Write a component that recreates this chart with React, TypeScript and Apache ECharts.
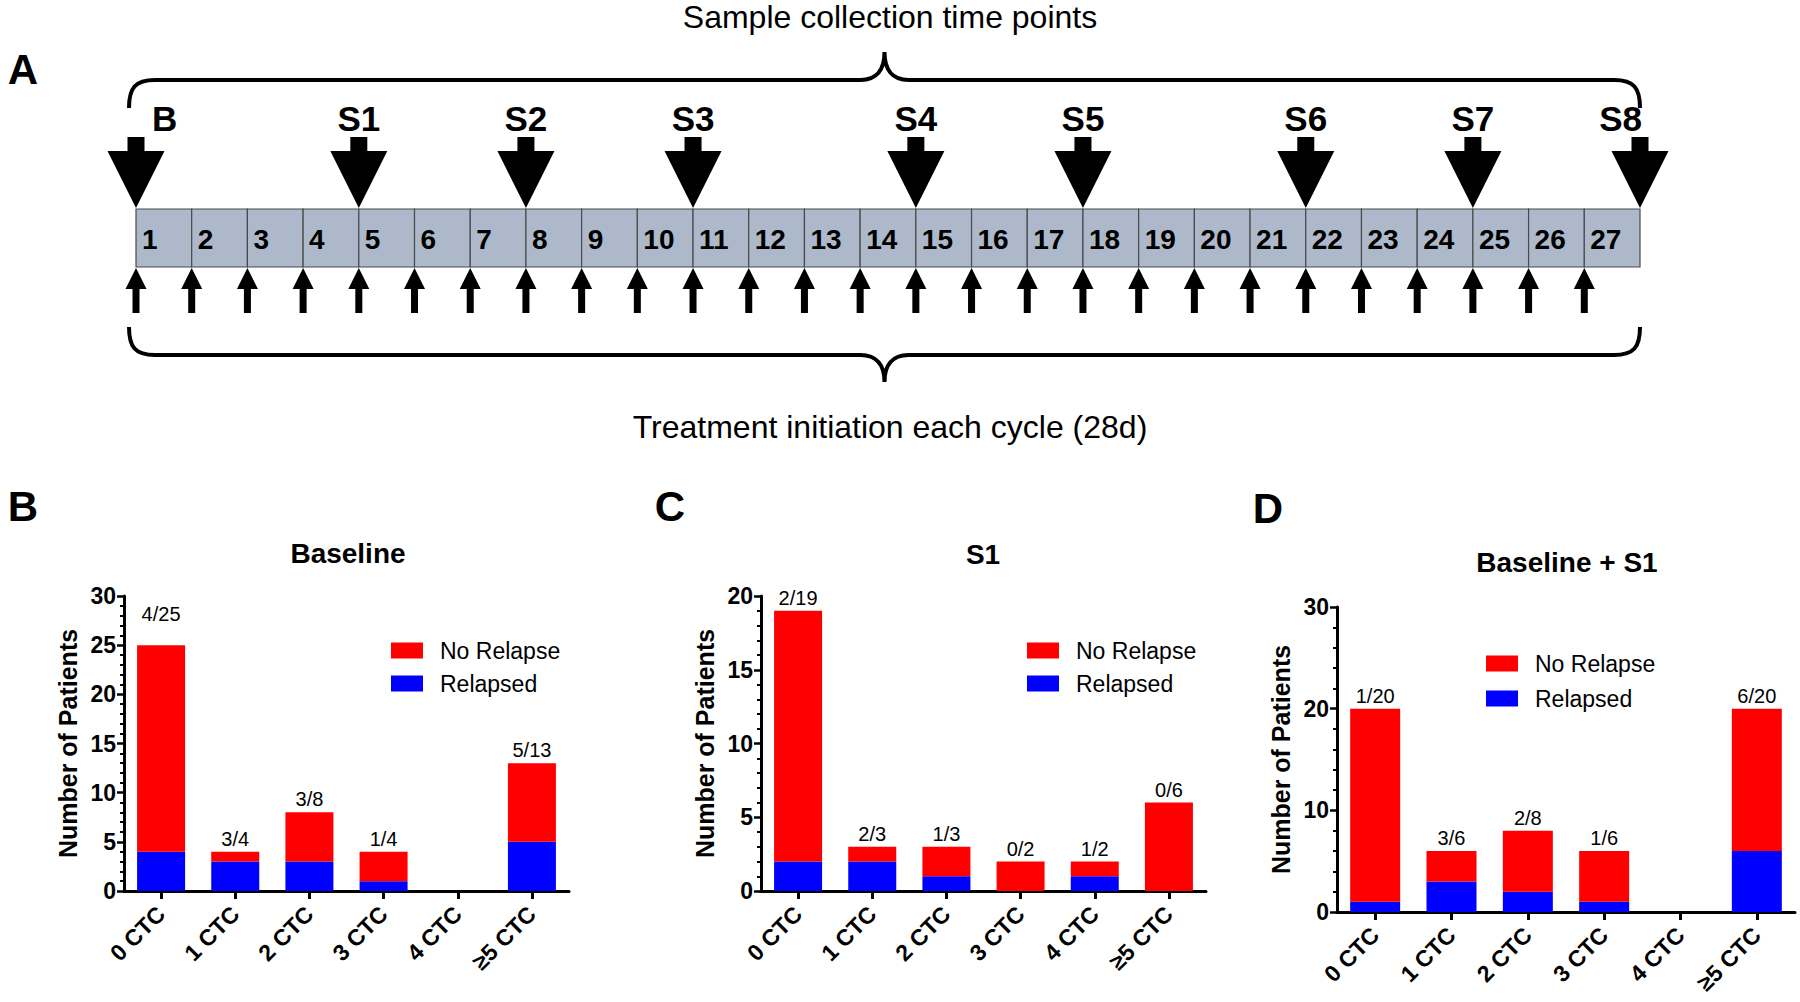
import React, { useEffect, useRef } from "react";
import * as echarts from "echarts";

const FONT = '"Liberation Sans", Arial, Helvetica, sans-serif';

// ---------- Panel A data ----------
const cycles = [1, 2, 3, 4, 5, 6, 7, 8, 9, 10, 11, 12, 13, 14, 15, 16, 17, 18, 19, 20, 21, 22, 23, 24, 25, 26, 27];
const sampleCycles = [1, 5, 8, 11, 15, 18, 22, 25, 28];
const sampleLabels = ["B", "S1", "S2", "S3", "S4", "S5", "S6", "S7", "S8"];
const topCaption = "Sample collection time points";
const bottomCaption = "Treatment initiation each cycle (28d)";

// ---------- Panels B-D data ----------
const categories = ["0 CTC", "1 CTC", "2 CTC", "3 CTC", "4 CTC", "≥5 CTC"];

const baselineRelapsed = [4, 3, 3, 1, 0, 5];
const baselineNoRelapse = [21, 1, 5, 3, 0, 8];
const baselineLabels = ["4/25", "3/4", "3/8", "1/4", "", "5/13"];

const s1Relapsed = [2, 2, 1, 0, 1, 0];
const s1NoRelapse = [17, 1, 2, 2, 1, 6];
const s1Labels = ["2/19", "2/3", "1/3", "0/2", "1/2", "0/6"];

const combRelapsed = [1, 3, 2, 1, 0, 6];
const combNoRelapse = [19, 3, 6, 5, 0, 14];
const combLabels = ["1/20", "3/6", "2/8", "1/6", "", "6/20"];

const panelTitles = ["Baseline", "S1", "Baseline + S1"];
const yMax = [30, 20, 30];
const yInterval = [5, 5, 10];
const legendNames = ["No Relapse", "Relapsed"];

function txt(text: string, x: number, y: number, font: string, align = "center", valign = "middle") {
  return {
    type: "text",
    style: {
      text,
      x,
      y,
      font,
      fill: "#000",
      textAlign: align,
      textVerticalAlign: valign,
      align,
      verticalAlign: valign,
    },
  };
}

function bracePath(L: number, R: number, yEnd: number, yLine: number, yTip: number) {
  const M = (L + R) / 2;
  const s = yEnd > yLine ? 1 : -1;
  return [
    `M ${L} ${yEnd}`,
    `C ${L} ${yLine + s * 8} ${L + 6} ${yLine} ${L + 26} ${yLine}`,
    `L ${M - 24} ${yLine}`,
    `C ${M - 8} ${yLine} ${M} ${yLine - s * 10} ${M} ${yTip}`,
    `C ${M} ${yLine - s * 10} ${M + 8} ${yLine} ${M + 24} ${yLine}`,
    `L ${R - 26} ${yLine}`,
    `C ${R - 6} ${yLine} ${R} ${yLine + s * 8} ${R} ${yEnd}`,
  ].join(" ");
}

function buildOption() {
  const grids = [
    { left: 136, right: 160, top: 40, height: 400 },
    { left: 124, width: 445, top: 596, height: 295 },
    { left: 761, width: 445, top: 596, height: 295 },
    { left: 1337, width: 458, top: 607, height: 305 },
  ];

  const xAxes: any[] = [{ type: "value", gridIndex: 0, min: 1, max: 28, show: false }];
  const yAxes: any[] = [{ type: "value", gridIndex: 0, min: 0, max: 1, show: false }];

  for (let p = 0; p < 3; p++) {
    xAxes.push({
      type: "category",
      gridIndex: p + 1,
      data: categories,
      axisLine: { show: true, lineStyle: { color: "#000", width: 3 } },
      axisTick: { show: true, alignWithLabel: true, length: 8, lineStyle: { color: "#000", width: 3 } },
      axisLabel: {
        rotate: 45,
        interval: 0,
        margin: 19,
        color: "#000",
        fontWeight: "bold",
        fontSize: 23,
        fontFamily: FONT,
      },
    });
    yAxes.push({
      type: "value",
      gridIndex: p + 1,
      min: 0,
      max: yMax[p],
      interval: yInterval[p],
      name: "Number of Patients",
      nameLocation: "middle",
      nameGap: 44,
      nameTextStyle: { color: "#000", fontWeight: "bold", fontSize: 25, fontFamily: FONT },
      axisLine: { show: true, lineStyle: { color: "#000", width: 3 } },
      axisTick: { show: true, length: 7, lineStyle: { color: "#000", width: 2.5 } },
      minorTick: { show: true, splitNumber: 5, length: 4, lineStyle: { color: "#000", width: 2 } },
      splitLine: { show: false },
      axisLabel: { margin: 8, color: "#000", fontWeight: "bold", fontSize: 23, fontFamily: FONT },
    });
  }

  const relapsedSets = [baselineRelapsed, s1Relapsed, combRelapsed];
  const noRelapseSets = [baselineNoRelapse, s1NoRelapse, combNoRelapse];
  const labelSets = [baselineLabels, s1Labels, combLabels];
  const barWidths = [48, 48, 50];

  const series: any[] = [];

  // Panel A: timeline boxes
  series.push({
    type: "custom",
    xAxisIndex: 0,
    yAxisIndex: 0,
    clip: false,
    silent: true,
    data: cycles.map((c) => [c]),
    renderItem: (params: any, api: any) => {
      const c = api.value(0);
      const x0 = api.coord([c, 0])[0];
      const x1 = api.coord([c + 1, 0])[0];
      return {
        type: "group",
        children: [
          {
            type: "rect",
            shape: { x: x0, y: 209, width: x1 - x0, height: 58 },
            style: { fill: "#adb9ca", stroke: "#4a4a4a", lineWidth: 1.2 },
          },
          txt(String(c), x0 + 6, 239, `bold 28px ${FONT}`, "left", "middle"),
        ],
      };
    },
  });

  // Panel A: small treatment arrows
  series.push({
    type: "custom",
    xAxisIndex: 0,
    yAxisIndex: 0,
    clip: false,
    silent: true,
    data: cycles.map((c) => [c]),
    renderItem: (params: any, api: any) => {
      const x = api.coord([api.value(0), 0])[0];
      return {
        type: "polygon",
        shape: {
          points: [
            [x, 268],
            [x + 10.5, 289],
            [x + 3.5, 289],
            [x + 3.5, 313],
            [x - 3.5, 313],
            [x - 3.5, 289],
            [x - 10.5, 289],
          ],
        },
        style: { fill: "#000" },
      };
    },
  });

  // Panel A: sample collection arrows
  series.push({
    type: "custom",
    xAxisIndex: 0,
    yAxisIndex: 0,
    clip: false,
    silent: true,
    data: sampleCycles.map((c) => [c]),
    renderItem: (params: any, api: any) => {
      const i = params.dataIndex;
      const x = api.coord([api.value(0), 0])[0];
      const last = sampleCycles.length - 1;
      const ly = 118;
      let label;
      if (i === 0) label = txt(sampleLabels[i], x + 16, ly, `bold 35px ${FONT}`, "left", "middle");
      else if (i === last) label = txt(sampleLabels[i], x + 2, ly, `bold 35px ${FONT}`, "right", "middle");
      else label = txt(sampleLabels[i], x, ly, `bold 35px ${FONT}`, "center", "middle");
      return {
        type: "group",
        children: [
          {
            type: "polygon",
            shape: {
              points: [
                [x - 8.5, 137],
                [x + 8.5, 137],
                [x + 8.5, 151],
                [x + 28.5, 151],
                [x, 208],
                [x - 28.5, 151],
                [x - 8.5, 151],
              ],
            },
            style: { fill: "#000" },
          },
          label,
        ],
      };
    },
  });

  // Panel A: braces
  series.push({
    type: "custom",
    xAxisIndex: 0,
    yAxisIndex: 0,
    clip: false,
    silent: true,
    data: [[sampleCycles[0], sampleCycles[sampleCycles.length - 1]]],
    renderItem: (params: any, api: any) => {
      const L = api.coord([api.value(0), 0])[0] - 7;
      const R = api.coord([api.value(1), 0])[0];
      return {
        type: "group",
        children: [
          {
            type: "path",
            shape: { pathData: bracePath(L, R, 108, 80, 52) },
            style: { fill: null, stroke: "#000", lineWidth: 4 },
          },
          {
            type: "path",
            shape: { pathData: bracePath(L, R, 327, 355, 382) },
            style: { fill: null, stroke: "#000", lineWidth: 4 },
          },
        ],
      };
    },
  });

  for (let p = 0; p < 3; p++) {
    series.push({
      type: "bar",
      name: "Relapsed",
      xAxisIndex: p + 1,
      yAxisIndex: p + 1,
      stack: "s" + p,
      barWidth: barWidths[p],
      data: relapsedSets[p],
      itemStyle: { color: "#0000ff" },
      silent: true,
    });
    const labels = labelSets[p];
    series.push({
      type: "bar",
      name: "No Relapse",
      xAxisIndex: p + 1,
      yAxisIndex: p + 1,
      stack: "s" + p,
      barWidth: barWidths[p],
      data: noRelapseSets[p].map((v, i) =>
        p === 0 && i === 0 ? { value: v, label: { distance: 21 } } : v
      ),
      itemStyle: { color: "#ff0000" },
      silent: true,
      label: {
        show: true,
        position: "top",
        distance: 3,
        color: "#000",
        fontSize: 20,
        fontFamily: FONT,
        formatter: (prm: any) => labels[prm.dataIndex],
      },
    });
  }

  const legendPos = [
    { left: 386, top: 634 },
    { left: 1022, top: 634 },
    { left: 1481, top: 647 },
  ];
  const legends = legendPos.map((pos, p) => ({
    ...pos,
    orient: "vertical",
    icon: "rect",
    itemWidth: 32,
    itemHeight: 16,
    itemGap: p === 2 ? 12 : 10,
    selectedMode: false,
    data: legendNames,
    textStyle: { color: "#000", fontSize: 23, fontFamily: FONT, padding: [0, 0, 0, 12] },
  }));

  const graphic = [
    txt("A", 23, 69, `bold 42px ${FONT}`),
    txt("B", 23, 506, `bold 42px ${FONT}`),
    txt("C", 670, 506, `bold 42px ${FONT}`),
    txt("D", 1268, 508, `bold 42px ${FONT}`),
    txt(topCaption, 890, 17, `32px ${FONT}`),
    txt(bottomCaption, 890, 427, `32px ${FONT}`),
    txt(panelTitles[0], 348, 553, `bold 28px ${FONT}`),
    txt(panelTitles[1], 983, 554, `bold 28px ${FONT}`),
    txt(panelTitles[2], 1567, 562, `bold 28px ${FONT}`),
  ];

  return {
    animation: false,
    backgroundColor: "#ffffff",
    textStyle: { fontFamily: FONT },
    grid: grids,
    xAxis: xAxes,
    yAxis: yAxes,
    legend: legends,
    graphic,
    series,
  };
}

export default function App() {
  const ref = useRef<HTMLDivElement>(null);
  useEffect(() => {
    if (!ref.current) return;
    const chart = echarts.init(ref.current, null, { renderer: "svg" });
    chart.setOption(buildOption() as any);
    return () => chart.dispose();
  }, []);
  return (
    <div
      ref={ref}
      style={{ position: "fixed", left: 0, top: 0, width: 1800, height: 1002, background: "#fff" }}
    />
  );
}
